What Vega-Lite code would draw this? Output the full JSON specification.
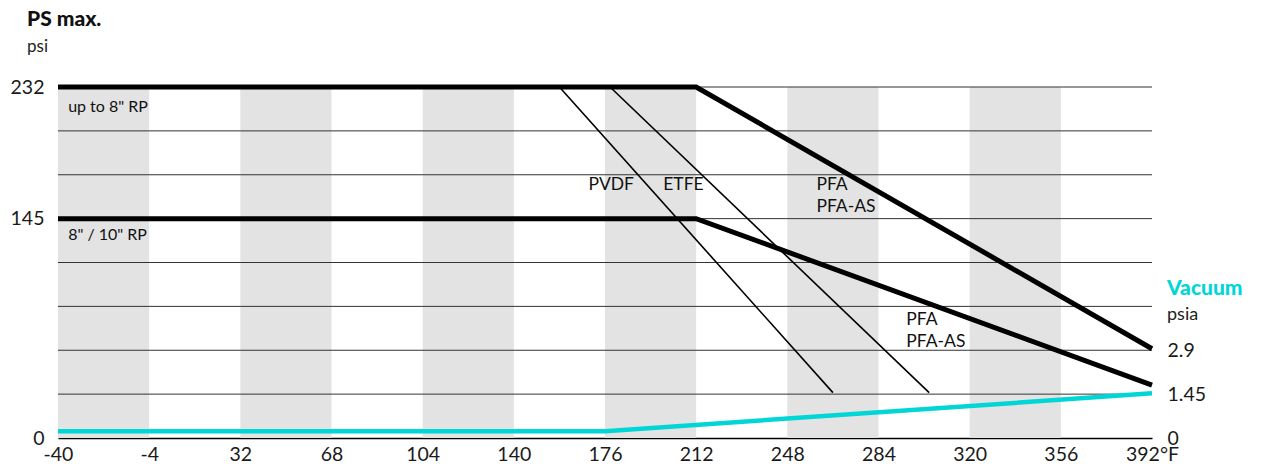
{
  "$schema": "https://vega.github.io/schema/vega-lite/v6.json",
  "width": 1094,
  "height": 351,
  "autosize": {"type": "none"},
  "padding": {"left": 58, "top": 87, "right": 112, "bottom": 36},
  "background": "white",
  "config": {
    "font": "Lato",
    "view": {"stroke": null},
    "axis": {"labelFont": "Lato", "labelFontSize": 19.5, "labelColor": "#1a1a1a", "labelOverlap": false, "labelFlush": false, "labelBound": false}
  },
  "title": {
    "text": "PS max.",
    "subtitle": "psi",
    "anchor": "start",
    "frame": "group",
    "dx": -31,
    "offset": 22,
    "font": "Lato",
    "fontSize": 21,
    "fontWeight": 900,
    "color": "#111",
    "subtitleFont": "Lato",
    "subtitleFontSize": 17,
    "subtitleColor": "#222",
    "subtitlePadding": 9
  },
  "datasets": {
    "bands": [
      {"x": -40, "x2": -4}, {"x": 32, "x2": 68}, {"x": 104, "x2": 140},
      {"x": 176, "x2": 212}, {"x": 248, "x2": 284}, {"x": 320, "x2": 356}
    ],
    "grid": [{"y": 29}, {"y": 58}, {"y": 87}, {"y": 116}, {"y": 145}, {"y": 174}, {"y": 203}, {"y": 232}],
    "thick": [
      {"series": "up to 8\" RP", "x": -40, "y": 232}, {"series": "up to 8\" RP", "x": 212, "y": 232}, {"series": "up to 8\" RP", "x": 392, "y": 59},
      {"series": "8\"/10\" RP", "x": -40, "y": 145}, {"series": "8\"/10\" RP", "x": 212, "y": 145}, {"series": "8\"/10\" RP", "x": 392, "y": 35}
    ],
    "thin": [
      {"series": "PVDF", "x": 158, "y": 232}, {"series": "PVDF", "x": 266, "y": 30},
      {"series": "ETFE", "x": 178, "y": 232}, {"series": "ETFE", "x": 304, "y": 30}
    ],
    "vacuum": [
      {"x": -40, "y": 4.5}, {"x": 176, "y": 4.5}, {"x": 392, "y": 29.5}
    ],
    "labels": [
      {"x": -36, "y": 219, "text": "up to 8\" RP", "size": "s"},
      {"x": -36, "y": 134, "text": "8\" / 10\" RP", "size": "s"},
      {"x": 169.5, "y": 167, "text": "PVDF", "size": "m"},
      {"x": 199, "y": 167, "text": "ETFE", "size": "m"},
      {"x": 259.5, "y": 167, "text": "PFA", "size": "m"},
      {"x": 259.5, "y": 152.7, "text": "PFA-AS", "size": "m"},
      {"x": 295, "y": 78, "text": "PFA", "size": "m"},
      {"x": 295, "y": 63.5, "text": "PFA-AS", "size": "m"}
    ],
    "vac": [{"x": 392, "y": 98.5, "text": "Vacuum"}],
    "psia": [{"x": 392, "y": 81, "text": "psia"}]
  },
  "layer": [
    {
      "data": {"name": "bands"},
      "mark": {"type": "rect", "color": "#e3e3e3"},
      "encoding": {
        "x": {"field": "x", "type": "quantitative", "title": null,
              "scale": {"domain": [-40, 392], "nice": false, "zero": false},
              "axis": {"values": [-40, -4, 32, 68, 104, 140, 176, 212, 248, 284, 320, 356, 392],
                       "labelExpr": "datum.value == 392 ? '392°F' : (datum.value < 0 ? '-' + abs(datum.value) : '' + datum.value)",
                       "grid": false, "ticks": false, "domain": true, "domainColor": "#000", "domainWidth": 1.5, "labelPadding": 7}},
        "x2": {"field": "x2"},
        "y": {"datum": 232, "type": "quantitative", "title": null,
              "scale": {"domain": [0, 232], "nice": false, "zero": true},
              "axis": {"orient": "left", "values": [0, 145, 232], "grid": false, "ticks": false, "domain": false, "labelPadding": 14, "title": null}},
        "y2": {"datum": 0}
      }
    },
    {
      "data": {"name": "grid"},
      "mark": {"type": "rule", "color": "#333", "strokeWidth": 1},
      "encoding": {
        "y": {"field": "y", "type": "quantitative", "title": null, "axis": null}
      }
    },
    {
      "data": {"name": "labels"},
      "mark": {"type": "text", "align": "left", "baseline": "middle", "font": "Lato", "color": "#111"},
      "encoding": {
        "x": {"field": "x", "type": "quantitative", "title": null},
        "y": {"field": "y", "type": "quantitative", "title": null, "axis": null},
        "text": {"field": "text"},
        "size": {"field": "size", "type": "nominal", "scale": {"domain": ["s", "m"], "range": [16, 17.5]}, "legend": null}
      }
    },
    {
      "data": {"name": "thin"},
      "mark": {"type": "line", "color": "#000", "strokeWidth": 1.6},
      "encoding": {
        "x": {"field": "x", "type": "quantitative", "title": null},
        "y": {"field": "y", "type": "quantitative", "title": null, "axis": null},
        "detail": {"field": "series"}
      }
    },
    {
      "data": {"name": "thick"},
      "mark": {"type": "line", "color": "#000", "strokeWidth": 5},
      "encoding": {
        "x": {"field": "x", "type": "quantitative", "title": null},
        "y": {"field": "y", "type": "quantitative", "title": null,
              "axis": {"orient": "right", "values": [0, 29, 58], "labelExpr": "datum.value == 0 ? '0' : format(datum.value / 20, '.3~f')",
                       "grid": false, "ticks": false, "domain": false, "labelPadding": 15, "title": null}},
        "detail": {"field": "series"}
      }
    },
    {
      "data": {"name": "vacuum"},
      "mark": {"type": "line", "color": "#00d6d6", "strokeWidth": 4.5},
      "encoding": {
        "x": {"field": "x", "type": "quantitative", "title": null},
        "y": {"field": "y", "type": "quantitative", "title": null, "axis": null}
      }
    },
    {
      "data": {"name": "vac"},
      "mark": {"type": "text", "align": "left", "baseline": "middle", "dx": 15, "font": "Lato", "fontSize": 21, "fontWeight": 900, "color": "#00d6d6"},
      "encoding": {
        "x": {"field": "x", "type": "quantitative", "title": null},
        "y": {"field": "y", "type": "quantitative", "title": null, "axis": null},
        "text": {"field": "text"}
      }
    },
    {
      "data": {"name": "psia"},
      "mark": {"type": "text", "align": "left", "baseline": "middle", "dx": 15, "font": "Lato", "fontSize": 18, "color": "#222"},
      "encoding": {
        "x": {"field": "x", "type": "quantitative", "title": null},
        "y": {"field": "y", "type": "quantitative", "title": null, "axis": null},
        "text": {"field": "text"}
      }
    }
  ],
  "resolve": {"axis": {"y": "independent"}}
}
